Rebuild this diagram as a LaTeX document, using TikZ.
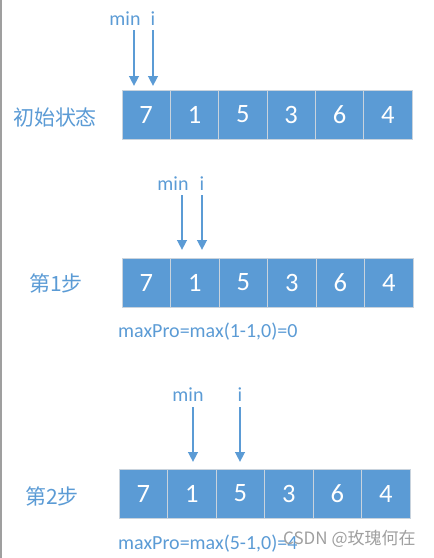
\documentclass[tikz,border=0pt]{standalone}
\usepackage{fontspec}
\setmainfont{Carlito}
\newfontfamily\cjk{Noto Sans CJK SC}
\usetikzlibrary{arrows.meta}
\definecolor{cblue}{HTML}{5B9BD5}
\definecolor{cedge}{HTML}{C9D3DD}
\begin{document}
\begin{tikzpicture}[x=1pt,y=-1pt,
  cell/.style={draw=cedge,line width=0.9pt,fill=cblue,text=white,
    minimum width=48.5pt,minimum height=49pt,inner sep=0pt,outer sep=0pt,
    anchor=north west,font=\fontsize{26.5}{27}\selectfont},
  lbl/.style={text=cblue,inner sep=0pt,font=\fontsize{20}{20}\selectfont},
  rowlbl/.style={text=cblue,inner sep=0pt,font=\cjk\fontsize{21}{21}\selectfont},
  ptr/.style={draw=cblue,line width=2.8pt,-{Triangle[length=10pt,width=9.5pt]}}]
\useasboundingbox (0,0) rectangle (434,558);
\fill[gray!75] (0,0) rectangle (1.5,558);
% rows of cells
\foreach \r/\x/\y/\w in {0/122/90/48.33,1/122/258/48.5,2/119/469/48.5}{
  \foreach \v [count=\k from 0] in {7,1,5,3,6,4}{
    \node[cell,minimum width=\w pt] (r\r c\k) at ({\x+\k*\w},\y) {\v};
  }
}
% row labels
\node[rowlbl] (s0) at (55,117) {初始状态};
\node[rowlbl] (s1) at (56,283) {第1步};
\node[rowlbl] (s2) at (52,496) {第2步};
% pointer labels
\node[lbl] (m0) at (125,18.5) {min};
\node[lbl] (i0) at (153,18.5) {i};
\node[lbl] (m1) at (173,184) {min};
\node[lbl] (i1) at (202,184) {i};
\node[lbl] (m2) at (188,395) {min};
\node[lbl] (i2) at (240,395) {i};
% arrows
\coordinate (pm0s) at (134,30);  \coordinate (pm0e) at (134,86);
\coordinate (pi0s) at (153,30);  \coordinate (pi0e) at (153,86);
\coordinate (pm1s) at (182,195); \coordinate (pm1e) at (182,250);
\coordinate (pi1s) at (202,195); \coordinate (pi1e) at (202,250);
\coordinate (pm2s) at (193,407); \coordinate (pm2e) at (193,462);
\coordinate (pi2s) at (240,407); \coordinate (pi2e) at (240,462);
\foreach \p in {m0,i0,m1,i1,m2,i2}{
  \draw[ptr] (p\p s) -- (p\p e);
}
% formulas
\node[lbl,anchor=west] (f1) at (118,332) {maxPro=max(1-1,0)=0};
\node[lbl,anchor=west] (f2) at (118,544) {maxPro=max(5-1,0)=4};
% watermark
\node[anchor=west,inner sep=0pt,text=gray!75,font=\cjk\fontsize{17}{17}\selectfont] (wm) at (283,539) {CSDN @玫瑰何在};
\end{tikzpicture}
\end{document}
